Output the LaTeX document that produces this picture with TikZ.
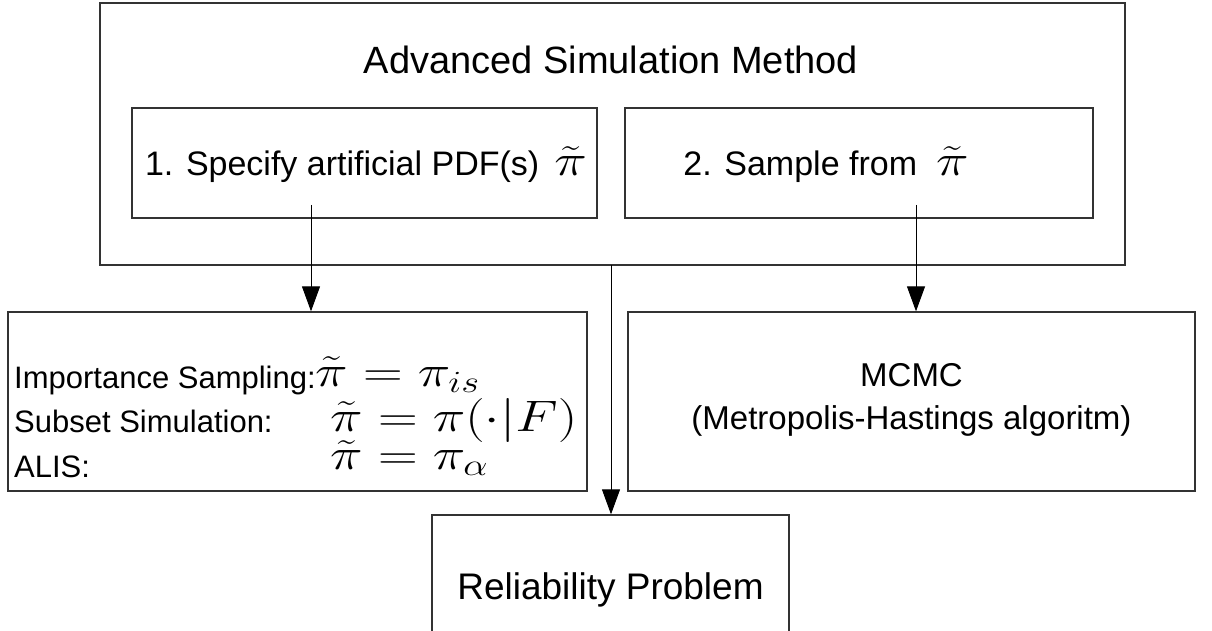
\RequirePackage{fix-cm}
\documentclass[tikz,border=0pt]{standalone}
\usepackage{graphicx}
\usepackage{fontspec}
\setmainfont{Liberation Sans}
\usetikzlibrary{arrows.meta}
\newcommand{\wm}[1]{{\fontsize{44}{46}\selectfont\scalebox{1.25}[1]{$#1$}}}
\begin{document}
\begin{tikzpicture}[x=1pt,y=-1pt,
  box/.style={draw=black!80, line width=1.3pt, rectangle, inner sep=0pt},
  arr/.style={draw=black, line width=1pt, -{Triangle[length=25pt,width=18pt]}},
  txt/.style={inner sep=0pt, font=\fontsize{31}{36}\selectfont},
  mth/.style={inner sep=0pt, anchor=base west}]
\useasboundingbox (0,0) rectangle (1212,631);
\clip (0,0) rectangle (1212,631);
% outer
\node[box, minimum width=1025pt, minimum height=262pt] (outer) at (612.5,134) {};
\node[txt, font=\fontsize{38}{44}\selectfont] (title) at (611,60) {Advanced Simulation Method};
% inner boxes
\node[box, minimum width=465pt, minimum height=110pt] (b1) at (364.5,163) {};
\node[txt, font=\fontsize{34}{40}\selectfont, anchor=base] (t1) at (366,176) {1. Specify artificial PDF(s) \,\wm{\tilde{\pi}}};
\node[box, minimum width=468pt, minimum height=110pt] (b2) at (859,163) {};
\node[txt, font=\fontsize{34}{40}\selectfont, anchor=base] (t2) at (826,176) {2. Sample from \ \wm{\tilde{\pi}}};
% lower boxes
\node[box, minimum width=579pt, minimum height=179pt] (lb) at (297.5,401.5) {};
\node[box, minimum width=567pt, minimum height=179pt] (rb) at (911.5,401.5) {};
\node[box, minimum width=357pt, minimum height=200pt] (bb) at (610.5,615) {};
% left box text
\node[txt, anchor=base west] (l1) at (14,388) {Importance Sampling:};
\node[txt, anchor=base west] (l2) at (14,432) {Subset Simulation:};
\node[txt, anchor=base west] (l3) at (14,477) {ALIS:};
\node[mth] (m1) at (315,386) {\wm{\tilde{\pi}=\pi_{is}}};
\node[mth] (m2) at (330,431) {\wm{\tilde{\pi}=\pi(\cdot|F)}};
\node[mth] (m3) at (330,469) {\wm{\tilde{\pi}=\pi_{\alpha}}};
% right box text
\node[txt, align=center, font=\fontsize{33}{43}\selectfont] (mc) at (911.5,400) {MCMC\\(Metropolis-Hastings algoritm)};
% bottom
\node[txt, font=\fontsize{37}{44}\selectfont] (rp) at (610.5,590) {Reliability Problem};
% arrows
\coordinate (s1) at (311,205);
\coordinate (s2) at (916,205);
\coordinate (s3) at (611,265);
\draw[arr] (s1) -- (s1 |- lb.north);
\draw[arr] (s2) -- (s2 |- rb.north);
\draw[arr] (s3) -- (s3 |- bb.north);
\end{tikzpicture}
\end{document}
